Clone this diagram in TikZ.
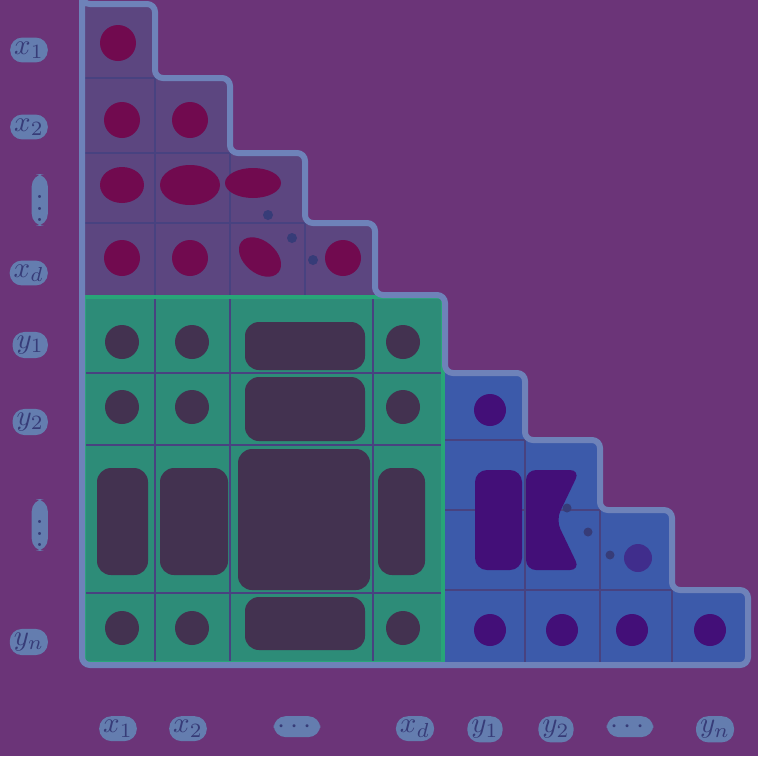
\documentclass[tikz,border=0pt]{standalone}
\usepackage{graphicx}
\usepackage{amsmath,amssymb}
\usetikzlibrary{positioning}
\definecolor{bgpurple}{RGB}{107,52,120}
\definecolor{magfill}{RGB}{113,10,79}
\definecolor{magcell}{RGB}{92,70,128}
\definecolor{greencell}{RGB}{45,140,120}
\definecolor{greenedge}{RGB}{40,165,120}
\definecolor{densefill}{RGB}{67,50,80}
\definecolor{bluecell}{RGB}{60,90,170}
\definecolor{indfill}{RGB}{67,15,120}
\definecolor{gridline}{RGB}{72,66,128}
\definecolor{rim}{RGB}{110,130,185}
\definecolor{labtext}{RGB}{55,60,120}
\definecolor{labhalo}{RGB}{100,125,175}
\newcommand{\biglab}[1]{\scalebox{2.9}{$#1$}}
\begin{document}
\begin{tikzpicture}[x=1pt, y=-1pt,
  lab/.style={fill=labhalo, rounded corners=12pt, text=labtext, inner sep=4pt},
  gridl/.style={draw=gridline, line width=2pt},
  mag/.style={fill=magfill},
  dense/.style={fill=densefill, rounded corners=14pt},
  ind/.style={fill=indfill},
  tick/.style={fill=labtext}]
\useasboundingbox (0,0) rectangle (758,756);
\fill[bgpurple] (0,0) rectangle (758,756);
% blocks
\fill[magcell] (82,4) -| (155,78) -| (230,153) -| (305,223) -| (375,295) -| (82,4) -- cycle;
\fill[greencell] (82,295) rectangle (445,665);
\fill[bluecell] (445,373) -| (525,440) -| (600,510) -| (672,590) -| (748,665) -| (445,373) -- cycle;
\draw[gridl] (155,78) -- (155,295) (230,153) -- (230,295) (305,223) -- (305,295)
  (82,78) -- (155,78) (82,153) -- (230,153) (82,223) -- (305,223);
\draw[gridl] (155,295) -- (155,665) (230,295) -- (230,665) (373,295) -- (373,665)
  (82,373) -- (445,373) (82,445) -- (445,445) (82,593) -- (445,593);
\draw[gridl] (525,440) -- (525,665) (600,510) -- (600,665) (672,590) -- (672,665)
  (445,440) -- (525,440) (445,510) -- (600,510) (445,590) -- (672,590);
\draw[greenedge, line width=4pt] (84,297) rectangle (443,663);
\draw[rim, line width=6pt, rounded corners=8pt] (82,4) -| (155,78) -| (230,153) -| (305,223) -| (375,295)
  -| (445,373) -| (525,440) -| (600,510) -| (672,590) -| (748,665) -| (82,4) -- cycle;
% x block
\foreach \p in {(118,43),(122,120),(190,120),(122,258),(190,258),(343,258)}
  \fill[mag] \p circle (18);
\fill[mag] (122,185) ellipse (22 and 18);
\fill[mag] (190,185) ellipse (30 and 20);
\fill[mag] (253,183) ellipse (28 and 15);
\fill[mag, rotate around={-40:(260,257)}] (260,257) ellipse (24 and 16);
\foreach \p in {(268,215),(292,238),(313,260)}
  \fill[tick] \p circle (5);
% dense block
\foreach \cx in {122,192,403}
  \foreach \cy in {342,407,628}
    \fill[densefill] (\cx,\cy) circle (17);
\fill[dense] (245,322) rectangle (365,370);
\fill[dense] (245,377) rectangle (365,441);
\fill[dense] (238,449) rectangle (370,590);
\fill[dense] (245,597) rectangle (365,650);
\fill[dense] (97,468) rectangle (148,575);
\fill[dense] (160,468) rectangle (228,575);
\fill[dense] (378,468) rectangle (425,575);
% y block
\foreach \p in {(490,410),(490,630),(562,630),(632,630),(710,630)}
  \fill[ind] \p circle (16);
\fill[ind, opacity=0.6] (638,558) circle (14);
\fill[ind, rounded corners=12pt] (475,470) rectangle (522,570);
\fill[ind, rounded corners=10pt] (526,470) -- (580,470) -- (556,520) -- (580,570) -- (526,570) -- cycle;
\foreach \p in {(567,508),(588,532),(610,555)}
  \fill[tick] \p circle (4.5);
% labels
\foreach \t/\yy [count=\i] in {x_1/50, x_2/127, \vdots/200, x_d/273, y_1/345, y_2/422, \vdots/525, y_n/642}
  \node[lab, anchor=east] (row\i) at (48,\yy) {\biglab{\t}};
\foreach \t/\xx [count=\i] in {x_1/118, x_2/188, \cdots/297, x_d/415, y_1/485, y_2/556, \cdots/630, y_n/715}
  \node[lab, anchor=north] (col\i) at (\xx,716) {\biglab{\t}};
\end{tikzpicture}
\end{document}
